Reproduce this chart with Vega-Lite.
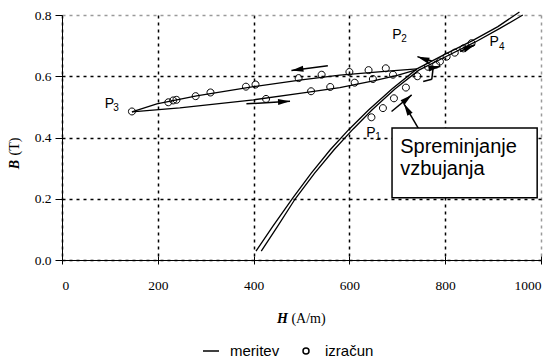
{
  "$schema": "https://vega.github.io/schema/vega-lite/v6.json",
  "width": 479,
  "height": 245,
  "autosize": {"type": "none"},
  "padding": {"left": 62, "top": 15, "right": 13, "bottom": 102},
  "background": "white",
  "config": {"view": {"stroke": null}, "axis": {"labelFont": "Liberation Serif", "titleFont": "Liberation Serif", "labelColor": "black", "titleColor": "black"}},
  "datasets": {
    "meritev": [
      {"c": "a", "i": 1, "H": 405, "B": 0.029}, {"c": "a", "i": 2, "H": 440, "B": 0.11}, {"c": "a", "i": 3, "H": 482, "B": 0.203},
      {"c": "a", "i": 4, "H": 520, "B": 0.283}, {"c": "a", "i": 5, "H": 560, "B": 0.36}, {"c": "a", "i": 6, "H": 600, "B": 0.428},
      {"c": "a", "i": 7, "H": 640, "B": 0.49}, {"c": "a", "i": 8, "H": 690, "B": 0.56}, {"c": "a", "i": 9, "H": 741, "B": 0.624},
      {"c": "a", "i": 10, "H": 800, "B": 0.672}, {"c": "a", "i": 11, "H": 858, "B": 0.717}, {"c": "a", "i": 12, "H": 910, "B": 0.762},
      {"c": "a", "i": 13, "H": 955, "B": 0.81},
      {"c": "b", "i": 1, "H": 416, "B": 0.029}, {"c": "b", "i": 2, "H": 450, "B": 0.11}, {"c": "b", "i": 3, "H": 487, "B": 0.2},
      {"c": "b", "i": 4, "H": 527, "B": 0.283}, {"c": "b", "i": 5, "H": 568, "B": 0.36}, {"c": "b", "i": 6, "H": 608, "B": 0.428},
      {"c": "b", "i": 7, "H": 647, "B": 0.49}, {"c": "b", "i": 8, "H": 695, "B": 0.558}, {"c": "b", "i": 9, "H": 745, "B": 0.62},
      {"c": "b", "i": 10, "H": 805, "B": 0.667}, {"c": "b", "i": 11, "H": 863, "B": 0.712}, {"c": "b", "i": 12, "H": 915, "B": 0.757},
      {"c": "b", "i": 13, "H": 962, "B": 0.8},
      {"c": "u", "i": 1, "H": 741, "B": 0.624}, {"c": "u", "i": 2, "H": 680, "B": 0.617}, {"c": "u", "i": 3, "H": 580, "B": 0.604},
      {"c": "u", "i": 4, "H": 500, "B": 0.588}, {"c": "u", "i": 5, "H": 400, "B": 0.566}, {"c": "u", "i": 6, "H": 281, "B": 0.536},
      {"c": "u", "i": 7, "H": 198, "B": 0.51}, {"c": "u", "i": 8, "H": 146, "B": 0.484},
      {"c": "l", "i": 1, "H": 146, "B": 0.484}, {"c": "l", "i": 2, "H": 246, "B": 0.497}, {"c": "l", "i": 3, "H": 400, "B": 0.523},
      {"c": "l", "i": 4, "H": 500, "B": 0.545}, {"c": "l", "i": 5, "H": 580, "B": 0.563}, {"c": "l", "i": 6, "H": 650, "B": 0.585},
      {"c": "l", "i": 7, "H": 700, "B": 0.603}, {"c": "l", "i": 8, "H": 741, "B": 0.622}
    ],
    "izracun": [
      {"s": "izračun", "H": 146, "B": 0.485}, {"s": "izračun", "H": 222, "B": 0.515}, {"s": "izračun", "H": 232, "B": 0.521},
      {"s": "izračun", "H": 239, "B": 0.523}, {"s": "izračun", "H": 279, "B": 0.535}, {"s": "izračun", "H": 310, "B": 0.547},
      {"s": "izračun", "H": 384, "B": 0.566}, {"s": "izračun", "H": 404, "B": 0.573}, {"s": "izračun", "H": 494, "B": 0.594},
      {"s": "izračun", "H": 542, "B": 0.605}, {"s": "izračun", "H": 600, "B": 0.614}, {"s": "izračun", "H": 640, "B": 0.62},
      {"s": "izračun", "H": 676, "B": 0.626},
      {"s": "izračun", "H": 426, "B": 0.526}, {"s": "izračun", "H": 520, "B": 0.551}, {"s": "izračun", "H": 560, "B": 0.565},
      {"s": "izračun", "H": 611, "B": 0.579}, {"s": "izračun", "H": 649, "B": 0.591}, {"s": "izračun", "H": 691, "B": 0.605},
      {"s": "izračun", "H": 646, "B": 0.466}, {"s": "izračun", "H": 670, "B": 0.496}, {"s": "izračun", "H": 693, "B": 0.528},
      {"s": "izračun", "H": 718, "B": 0.563}, {"s": "izračun", "H": 742, "B": 0.6},
      {"s": "izračun", "H": 764, "B": 0.631}, {"s": "izračun", "H": 781, "B": 0.638}, {"s": "izračun", "H": 789, "B": 0.648},
      {"s": "izračun", "H": 803, "B": 0.664}, {"s": "izračun", "H": 820, "B": 0.677}, {"s": "izračun", "H": 838, "B": 0.691},
      {"s": "izračun", "H": 855, "B": 0.708}
    ],
    "shafts": [
      {"H": 555, "B": 0.634, "H2": 479, "B2": 0.619},
      {"H": 385, "B": 0.51, "H2": 476, "B2": 0.518},
      {"H": 688, "B": 0.485, "H2": 730, "B2": 0.539},
      {"H": 831, "B": 0.681, "H2": 862, "B2": 0.703},
      {"H": 744, "B": 0.43, "H2": 714, "B2": 0.51},
      {"H": 772, "B": 0.65, "H2": 742, "B2": 0.664},
      {"H": 754, "B": 0.583, "H2": 772, "B2": 0.59},
      {"H": 772, "B": 0.59, "H2": 775, "B2": 0.63},
      {"H": 775, "B": 0.63, "H2": 790, "B2": 0.632}
    ],
    "heads": [
      {"H": 479, "B": 0.619, "a": 262},
      {"H": 476, "B": 0.518, "a": 87},
      {"H": 730, "B": 0.539, "a": 50},
      {"H": 862, "B": 0.703, "a": 66},
      {"H": 714, "B": 0.51, "a": 330},
      {"H": 742, "B": 0.664, "a": 289},
      {"H": 790, "B": 0.632, "a": 80}
    ],
    "box": [{"H": 689, "H2": 992, "B": 0.431, "B2": 0.203}],
    "boxtext": [
      {"t": "Spreminjanje", "H": 706, "B": 0.349},
      {"t": "vzbujanja", "H": 706, "B": 0.278}
    ],
    "plab": [
      {"t": "P", "H": 99, "B": 0.51}, {"t": "P", "H": 699, "B": 0.734},
      {"t": "P", "H": 902, "B": 0.711}, {"t": "P", "H": 645, "B": 0.415}
    ],
    "psub": [
      {"t": "3", "H": 113, "B": 0.497}, {"t": "2", "H": 714, "B": 0.721},
      {"t": "4", "H": 918, "B": 0.697}, {"t": "1", "H": 660, "B": 0.402}
    ]
  },
  "layer": [
    {
      "data": {"name": "meritev"},
      "mark": {"type": "line", "stroke": "black", "strokeWidth": 1.3, "clip": false},
      "encoding": {
        "x": {
          "field": "H", "type": "quantitative",
          "scale": {"domain": [0, 1000], "nice": false, "zero": false},
          "axis": {
            "orient": "bottom", "title": "H",
            "titleFont": "Liberation Serif", "titleFontStyle": "italic", "titleFontWeight": "bold", "titleFontSize": 14, "titleColor": "black",
            "titleX": 220, "titleY": 62, "titleBaseline": "alphabetic", "titleAlign": "center",
            "values": [0, 200, 400, 600, 800, 1000], "format": "d",
            "labelFont": "Liberation Serif", "labelFontSize": 13.5, "labelColor": "black", "labelPadding": 14,
            "tickSize": 4, "tickColor": "black", "domainColor": "black",
            "grid": true, "gridColor": {"condition": {"test": "datum.value == 1000", "value": "#9a9a9a"}, "value": "black"},
            "gridDash": [3, 4], "gridWidth": 1.5
          }
        },
        "y": {
          "field": "B", "type": "quantitative",
          "scale": {"domain": [0, 0.8], "nice": false, "zero": false},
          "axis": {
            "orient": "left", "title": "B",
            "titleFont": "Liberation Serif", "titleFontStyle": "italic", "titleFontWeight": "bold", "titleFontSize": 14, "titleColor": "black",
            "titleX": -48, "titleY": 149, "titleBaseline": "middle", "titleAlign": "center", "titleAngle": -90,
            "values": [0, 0.2, 0.4, 0.6, 0.8], "format": ".1f",
            "labelFont": "Liberation Serif", "labelFontSize": 13.5, "labelColor": "black", "labelPadding": 4,
            "tickSize": 7, "tickColor": "black", "domainColor": "black",
            "grid": true, "gridColor": {"condition": {"test": "datum.value == 0.8", "value": "#9a9a9a"}, "value": "black"},
            "gridDash": [3, 4], "gridWidth": 1.5
          }
        },
        "detail": {"field": "c"},
        "order": {"field": "i", "type": "quantitative"}
      }
    },
    {
      "data": {"name": "izracun"},
      "mark": {"type": "point", "filled": false, "color": "black", "strokeWidth": 1, "size": 348, "opacity": 1},
      "encoding": {
        "x": {
          "field": "H", "type": "quantitative",
          "axis": {
            "orient": "bottom", "title": "(A/m)",
            "titleFont": "Liberation Serif", "titleFontWeight": "normal", "titleFontSize": 14, "titleColor": "black",
            "titleX": 246, "titleY": 62, "titleBaseline": "alphabetic", "titleAlign": "center",
            "values": [0, 200, 400, 600, 800, 1000], "labels": false, "ticks": true, "tickSize": -4, "tickColor": "black",
            "domain": false, "grid": false
          }
        },
        "y": {
          "field": "B", "type": "quantitative",
          "axis": {
            "orient": "left", "title": "(T)",
            "titleFont": "Liberation Serif", "titleFontWeight": "normal", "titleFontSize": 14, "titleColor": "black",
            "titleX": -48, "titleY": 131, "titleBaseline": "middle", "titleAlign": "center", "titleAngle": -90,
            "labels": false, "ticks": false, "domain": false, "grid": false
          }
        },
        "shape": {
          "field": "s", "type": "nominal",
          "scale": {"domain": ["meritev", "izračun"], "range": ["M-1,0L1,0", "M-0.375,0A0.375,0.375 0 1,1 0.375,0A0.375,0.375 0 1,1 -0.375,0"]},
          "legend": {
            "orient": "none", "legendX": 140, "legendY": 327, "direction": "horizontal", "title": null,
            "labelFont": "Liberation Sans", "labelFontSize": 15, "labelColor": "black",
            "symbolSize": 256, "symbolStrokeWidth": 1.5, "symbolStrokeColor": "black",
            "columnPadding": 17, "labelOffset": 10, "padding": 0
          }
        }
      }
    },
    {
      "data": {"name": "shafts"},
      "mark": {"type": "rule", "color": "black", "strokeWidth": 1.5},
      "encoding": {
        "x": {"field": "H", "type": "quantitative", "axis": null},
        "x2": {"field": "H2"},
        "y": {"field": "B", "type": "quantitative", "axis": null},
        "y2": {"field": "B2"}
      }
    },
    {
      "data": {"name": "heads"},
      "mark": {"type": "point", "shape": "M0,0L0.5,2L-0.5,2Z", "filled": true, "color": "black", "size": 144, "opacity": 1},
      "encoding": {
        "x": {"field": "H", "type": "quantitative", "axis": null},
        "y": {"field": "B", "type": "quantitative", "axis": null},
        "angle": {"field": "a", "type": "quantitative", "scale": null}
      }
    },
    {
      "data": {"name": "box"},
      "mark": {"type": "rect", "fill": "white", "stroke": "black", "strokeWidth": 1.5},
      "encoding": {
        "x": {"field": "H", "type": "quantitative", "axis": null},
        "x2": {"field": "H2"},
        "y": {"field": "B", "type": "quantitative", "axis": null},
        "y2": {"field": "B2"}
      }
    },
    {
      "data": {"name": "boxtext"},
      "mark": {"type": "text", "font": "Liberation Sans", "fontSize": 20, "align": "left", "baseline": "alphabetic", "color": "black"},
      "encoding": {
        "x": {"field": "H", "type": "quantitative", "axis": null},
        "y": {"field": "B", "type": "quantitative", "axis": null},
        "text": {"field": "t"}
      }
    },
    {
      "data": {"name": "plab"},
      "mark": {"type": "text", "font": "Liberation Sans", "fontSize": 14, "align": "center", "baseline": "middle", "color": "black"},
      "encoding": {
        "x": {"field": "H", "type": "quantitative", "axis": null},
        "y": {"field": "B", "type": "quantitative", "axis": null},
        "text": {"field": "t"}
      }
    },
    {
      "data": {"name": "psub"},
      "mark": {"type": "text", "font": "Liberation Sans", "fontSize": 10, "align": "center", "baseline": "middle", "color": "black"},
      "encoding": {
        "x": {"field": "H", "type": "quantitative", "axis": null},
        "y": {"field": "B", "type": "quantitative", "axis": null},
        "text": {"field": "t"}
      }
    }
  ],
  "resolve": {"axis": {"x": "independent", "y": "independent"}}
}
